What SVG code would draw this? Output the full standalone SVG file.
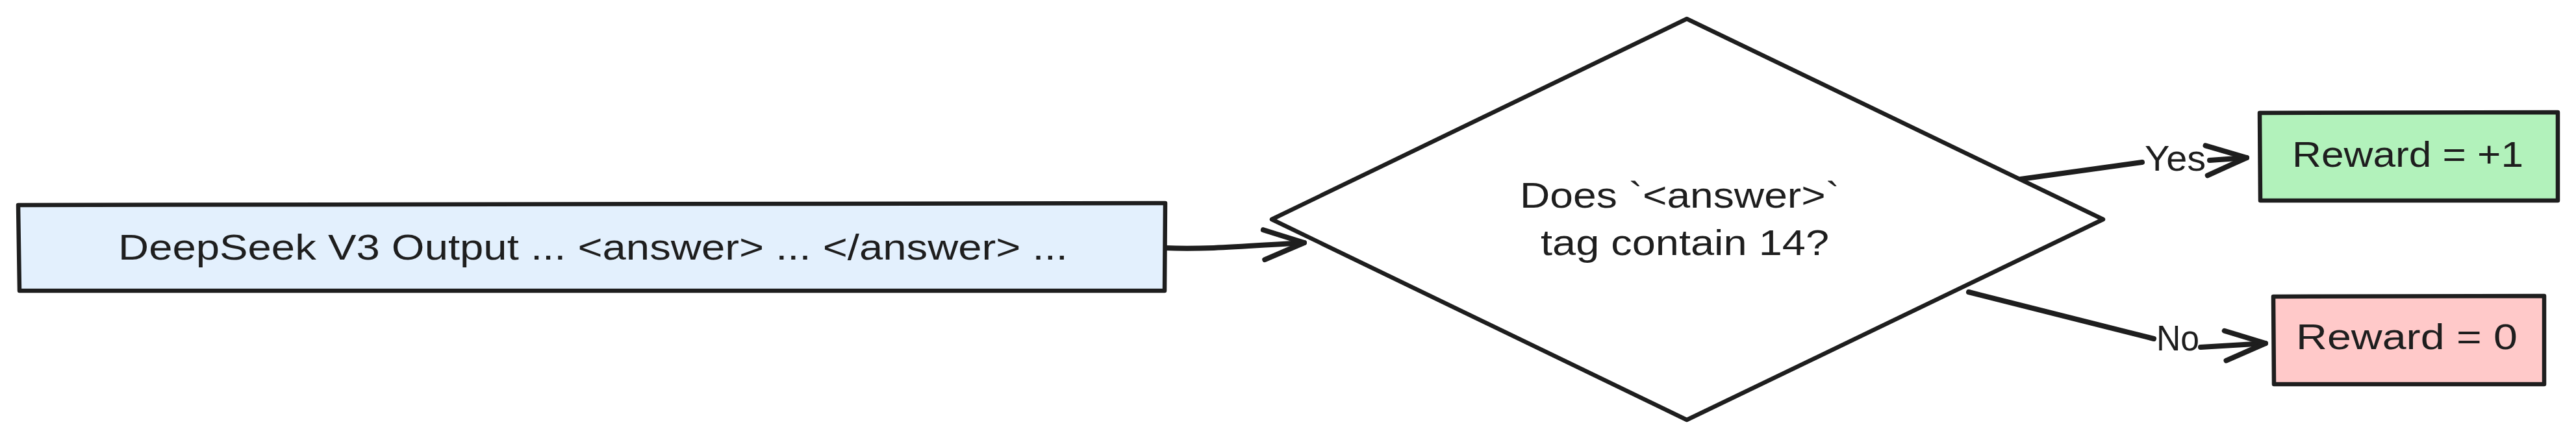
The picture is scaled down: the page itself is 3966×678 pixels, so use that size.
<svg xmlns="http://www.w3.org/2000/svg" width="3966" height="678" viewBox="0 0 3966 678">
<style>
.shape{stroke:#1e1e1e;stroke-width:6.5;stroke-linejoin:round;stroke-linecap:round}
.lbl{font-family:"Liberation Sans","Noto Sans",sans-serif;font-size:56px;fill:#1e1e1e}
.conn{fill:none;stroke:#1e1e1e;stroke-width:8;stroke-linecap:round;stroke-linejoin:round}
</style>
<defs>
<marker id="head" markerUnits="userSpaceOnUse" markerWidth="90" markerHeight="70" viewBox="-70 -35 90 70" refX="0" refY="0" orient="auto">
<path d="M-62,-23 L0,0 L-62,23" fill="none" stroke="#1e1e1e" stroke-width="8" stroke-linecap="round" stroke-linejoin="round"/>
</marker>
</defs>
<rect width="3966" height="678" fill="#ffffff"/>
<g id="connectors">
<path class="conn" d="M1794,382 C1860,385 1930,378 2008,374" marker-end="url(#head)"/>
<path class="conn" d="M3111,276 L3298,250 M3402,247 L3459,243" marker-end="url(#head)"/>
<path class="conn" d="M3031,450 L3316,522 M3388,535 L3488,529" marker-end="url(#head)"/>
</g>
<g id="node-output">
<path class="shape" fill="#e3f0fd" d="M28,316 L1794,313 L1793,448 L30,448 Z"/>
<text class="lbl" x="182" y="400" textLength="1462" lengthAdjust="spacingAndGlyphs">DeepSeek V3 Output ... &lt;answer&gt; ... &lt;/answer&gt; ...</text>
</g>
<g id="node-decision">
<path class="shape" fill="#ffffff" d="M2597,29 L3238,338 L2597,647 L1958,338 Z"/>
<text class="lbl" x="2340" y="320" textLength="492" lengthAdjust="spacingAndGlyphs">Does `&lt;answer&gt;`</text>
<text class="lbl" x="2372" y="393" textLength="444" lengthAdjust="spacingAndGlyphs">tag contain 14?</text>
</g>
<g id="label-yes">
<text class="lbl" x="3302" y="263" textLength="94" lengthAdjust="spacingAndGlyphs">Yes</text>
</g>
<g id="label-no">
<text class="lbl" x="3320" y="540" textLength="66" lengthAdjust="spacingAndGlyphs">No</text>
</g>
<g id="node-reward-pos">
<path class="shape" fill="#b2f2bb" d="M3479,174 L3938,173 L3938,309 L3480,309 Z"/>
<text class="lbl" x="3529" y="257" textLength="356" lengthAdjust="spacingAndGlyphs">Reward = +1</text>
</g>
<g id="node-reward-zero">
<path class="shape" fill="#ffc9c9" d="M3500,457 L3917,456 L3917,592 L3501,592 Z"/>
<text class="lbl" x="3535" y="538" textLength="341" lengthAdjust="spacingAndGlyphs">Reward = 0</text>
</g>
</svg>
